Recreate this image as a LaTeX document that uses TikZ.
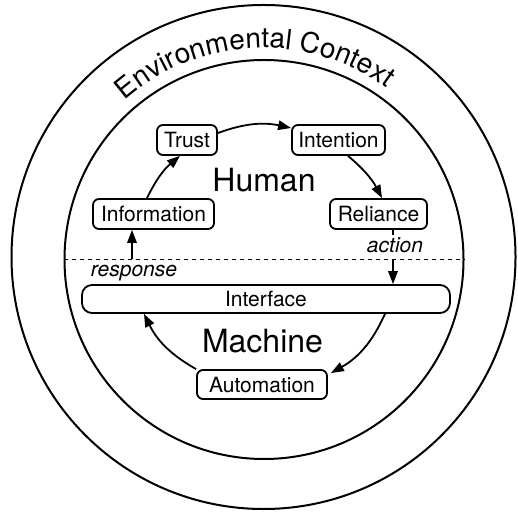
\documentclass[tikz,border=0pt]{standalone}
\usepackage{fontspec}
\setmainfont{TeX Gyre Heros}
\usetikzlibrary{arrows.meta,decorations.text}

\tikzset{
  ring/.style={circle, draw, line width=2pt, inner sep=0pt},
  stage/.style={draw, line width=1.8pt, rounded corners=6pt, inner xsep=6pt,
    minimum height=30pt, text height=15.5pt, text depth=0pt,
    font=\fontsize{21}{21}\selectfont},
  flow/.style={line width=1.8pt, -{Triangle[length=13pt,width=9.5pt]}},
  region/.style={font=\fontsize{32}{32}\selectfont, anchor=base},
  signal/.style={fill=white, anchor=base, inner xsep=3pt, inner ysep=3.5pt,
    text height=14.5pt, text depth=3.5pt, font=\fontsize{21}{21}\selectfont\itshape},
}

\begin{document}
\begin{tikzpicture}[x=1pt, y=1pt]
  \useasboundingbox (0,0) rectangle (518,516);

  % environment and system boundaries
  \node[ring, minimum size=504] (outer) at (263.5,259) {};
  \node[ring, minimum size=399] (inner) at (264,256.5) {};

  % curved title between the two rings
  \path[decorate, decoration={text along path, text align=center,
      text={|\fontsize{28}{28}\selectfont|Environmental Context}}]
    (263.5,258) ++(185.4:210) arc[start angle=185.4, end angle=0, radius=210];

  % human side
  \node[stage, minimum width=60]  (trust)       at (187,376)   {Trust};
  \node[stage, minimum width=93]  (intention)   at (338.5,376) {Intention};
  \node[stage, minimum width=121] (information) at (153.5,302) {Information};
  \node[stage, minimum width=97]  (reliance)    at (378.5,302) {Reliance};
  \node[region] (human) at (264,324) {Human};

  % machine side
  \node[stage, rounded corners=10pt, minimum width=368, minimum height=28pt]
    (interface) at (266,217) {Interface};
  \node[stage, minimum width=130, minimum height=29pt] (automation) at (262,131.5) {Automation};
  \node[region] (machine) at (262.5,163) {Machine};

  % cycle around the loop
  \draw[flow] ([xshift=-6.5]information.north) to[bend left=12] ([xshift=-7]trust.south);
  \draw[flow] ([yshift=7]trust.east) to[bend left=16] ([yshift=12]intention.west);
  \draw[flow] ([xshift=9.5]intention.south) to[bend left=11] ([xshift=3.5]reliance.north);
  \draw[flow] ([xshift=119]interface.south) to[bend left=18] ([shift={(3,-4)}]automation.north east);
  \draw[flow] (automation.north west) to[bend left=17] ([xshift=-122]interface.south);

  % exchanges across the interface
  \coordinate (resp) at ([xshift=-21.5]information.south);
  \coordinate (act) at ([xshift=14.5]reliance.south);
  \draw[flow] (resp |- interface.north) -- (resp);
  \draw[flow] (act) -- (act |- interface.north);
  \node[signal] (response) at (134,239) {response};
  \node[signal] (action) at (395,263) {action};

  % human / machine divide
  \draw[line width=1.6pt, dash pattern=on 4.5pt off 3.5pt] (inner.west) -- (inner.east);
\end{tikzpicture}
\end{document}
